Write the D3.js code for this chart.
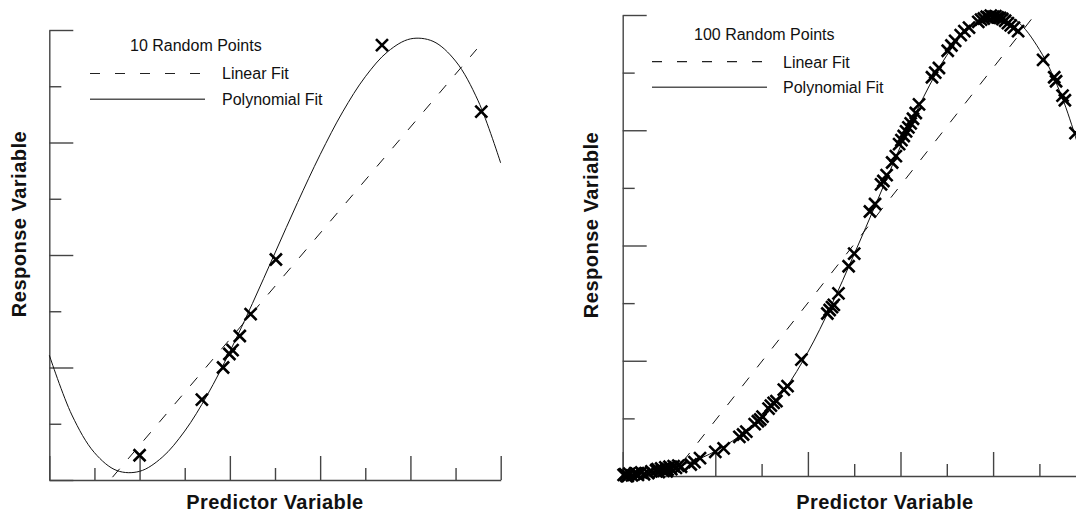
<!DOCTYPE html>
<html><head><meta charset="utf-8">
<script src="https://cdn.jsdelivr.net/npm/d3@7"></script>
<style>
body{margin:0;background:#fff}
svg{display:block}
text{font-family:"Liberation Sans",Arial,Helvetica,sans-serif;fill:#111}
</style>
</head><body>
<svg id="chart" width="1076" height="512"></svg>
<script>
// ---------- DATA ----------
const xTicksMajor = [0, 2, 4, 6, 8, 10];
const xTicksMinor = [1, 3, 5, 7, 9];
const yTicksMajor = [0, 2, 4, 6, 8];
const yTicksMinor = [1, 3, 5, 7];

// Left panel: 10 random points
const pts10X = [2.00, 3.38, 3.85, 3.99, 4.06, 4.22, 4.46, 5.02, 7.37, 9.57];
const pts10Y = [0.44, 1.43, 2.00, 2.24, 2.31, 2.56, 2.95, 3.92, 7.73, 6.55];
const lin10X = [1.40, 9.47];
const lin10Y = [0.05, 7.66];
const poly10X = [0, 0.5, 1, 1.5, 2, 2.5, 3, 3.5, 4, 4.5, 5, 5.5, 6, 6.5, 7, 7.5, 8, 8.5, 9, 9.5, 10];
const poly10Y = [2.22, 1.156, 0.486, 0.167, 0.154, 0.403, 0.870, 1.511, 2.282, 3.138, 4.037, 4.934, 5.784, 6.545, 7.169, 7.617, 7.842, 7.799, 7.448, 6.741, 5.635];

// Right panel: 100 random points
const pts100X = [
  0.02, 0.05, 0.08, 0.11, 0.14, 0.20, 0.27, 0.30, 0.33, 0.40, 0.46, 0.55, 0.62,
  0.72, 0.75, 0.78, 0.83, 0.88, 0.92, 0.95, 0.97, 1.01, 1.05, 1.10, 1.15, 1.20, 1.26,
  1.47, 1.55, 1.67, 2.00, 2.18, 2.52, 2.60, 2.67, 2.85, 2.92, 2.97, 3.02,
  3.15, 3.20, 3.26, 3.32, 3.48, 3.56, 3.86,
  4.42, 4.47, 4.52, 4.56, 4.66, 4.88, 5.00, 5.34, 5.45, 5.58, 5.63, 5.70, 5.82, 5.90,
  5.97, 6.02, 6.07, 6.12, 6.17, 6.22, 6.27, 6.33, 6.40,
  6.68, 6.75, 6.83, 7.02, 7.10, 7.18, 7.30, 7.38, 7.48,
  7.68, 7.74, 7.80, 7.86, 7.90, 7.95, 8.00, 8.05, 8.10, 8.15, 8.20, 8.26, 8.32, 8.38, 8.45,
  8.54, 9.08, 9.32, 9.36, 9.50, 9.55, 9.78
];
const pts100Y = [
  0.02, 0.03, 0.00, 0.00, 0.04, 0.01, 0.05, 0.04, 0.02, 0.06, 0.03, 0.05, 0.08,
  0.10, 0.12, 0.07, 0.13, 0.09, 0.15, 0.08, 0.11, 0.16, 0.12, 0.17, 0.14, 0.18, 0.16,
  0.20, 0.24, 0.31, 0.42, 0.48, 0.68, 0.72, 0.77, 0.90, 0.95, 0.98, 1.03,
  1.17, 1.22, 1.27, 1.30, 1.50, 1.56, 2.02,
  2.82, 2.88, 2.93, 2.97, 3.17, 3.64, 3.86, 4.59, 4.72, 5.06, 5.12, 5.22, 5.44, 5.55,
  5.76, 5.83, 5.90, 5.98, 6.05, 6.12, 6.20, 6.30, 6.45,
  6.92, 7.00, 7.08, 7.38, 7.47, 7.55, 7.65, 7.72, 7.78,
  7.88, 7.92, 7.94, 7.97, 7.96, 7.99, 7.97, 7.98, 7.96, 7.95, 7.93, 7.90, 7.86, 7.82, 7.78,
  7.72, 7.22, 6.92, 6.85, 6.60, 6.52, 5.95
];
const lin100X = [1.30, 8.87];
const lin100Y = [0.25, 7.97];
const poly100X = [0, 0.5, 1, 1.5, 2, 2.5, 3, 3.5, 4, 4.5, 5, 5.5, 6, 6.5, 7, 7.5, 8, 8.5, 9, 9.5, 10];
const poly100Y = [0.00, 0.05, 0.13, 0.25, 0.43, 0.68, 1.02, 1.50, 2.15, 2.95, 3.85, 4.78, 5.72, 6.58, 7.30, 7.80, 8.04, 7.90, 7.40, 6.55, 5.30];

const titles = ["10 Random Points", "100 Random Points"];
const legendLabels = ["Linear Fit", "Polynomial Fit"];
const xLabel = "Predictor Variable";
const yLabel = "Response Variable";

// ---------- LAYOUT ----------
const zip = (a, b) => a.map((v, i) => [v, b[i]]);
const panels = [
  { pts: zip(pts10X, pts10Y), lin: zip(lin10X, lin10Y), poly: zip(poly10X, poly10Y), title: titles[0],
    x0: 49.3, x1: 500.7, yTop: 30, yBot: 480,
    titleX: 130, titleY: 50.5, legX0: 90, legX1: 203, dashY: 73.5, solidY: 99.3,
    legTextX: 222, linTextY: 79, polyTextY: 104.5, xlabelX: 275, ylabelX: 26, ylabelY: 224 },
  { pts: zip(pts100X, pts100Y), lin: zip(lin100X, lin100Y), poly: zip(poly100X, poly100Y), title: titles[1],
    x0: 622.7, x1: 1085.7, yTop: 15, yBot: 476,
    titleX: 694, titleY: 40, legX0: 652, legX1: 765, dashY: 61.7, solidY: 87.3,
    legTextX: 783, linTextY: 67.5, polyTextY: 93, xlabelX: 885, ylabelX: 598, ylabelY: 225 }
];

const svg = d3.select("#chart");
const axisColor = "#444";

panels.forEach(p => {
  const g = svg.append("g");
  const x = d3.scaleLinear().domain([0, 10]).range([p.x0, p.x1]);
  const y = d3.scaleLinear().domain([0, 8]).range([p.yBot, p.yTop]);

  const styleAxis = sel => {
    sel.selectAll("path.domain").attr("stroke", axisColor).attr("stroke-width", 1.4);
    sel.selectAll(".tick line").attr("stroke", axisColor).attr("stroke-width", 1.4);
    sel.selectAll(".tick text").remove();
  };

  g.append("g").attr("transform", `translate(0,${p.yBot})`)
    .call(d3.axisBottom(x).tickValues(xTicksMajor).tickSize(-24).tickSizeOuter(0).tickFormat(""))
    .call(styleAxis);
  g.append("g").attr("transform", `translate(0,${p.yBot})`)
    .call(d3.axisBottom(x).tickValues(xTicksMinor).tickSize(-12).tickSizeOuter(0).tickFormat(""))
    .call(styleAxis).call(s => s.select("path.domain").remove());

  g.append("g").attr("transform", `translate(${p.x0},0)`)
    .call(d3.axisLeft(y).tickValues(yTicksMajor).tickSize(-24).tickSizeOuter(0).tickFormat(""))
    .call(styleAxis);
  g.append("g").attr("transform", `translate(${p.x0},0)`)
    .call(d3.axisLeft(y).tickValues(yTicksMinor).tickSize(-12).tickSizeOuter(0).tickFormat(""))
    .call(styleAxis).call(s => s.select("path.domain").remove());

  g.append("path").datum(p.lin)
    .attr("d", d3.line().x(d => x(d[0])).y(d => y(d[1])))
    .attr("fill", "none").attr("stroke", "#111").attr("stroke-width", 1)
    .attr("stroke-dasharray", "11,13");

  g.append("path").datum(p.poly)
    .attr("d", d3.line().curve(d3.curveCatmullRom.alpha(0.5)).x(d => x(d[0])).y(d => y(d[1])))
    .attr("fill", "none").attr("stroke", "#111").attr("stroke-width", 1);

  const s = 6;
  g.append("g").selectAll("path").data(p.pts).join("path")
    .attr("transform", d => `translate(${x(d[0])},${y(d[1])})`)
    .attr("d", `M${-s},${-s}L${s},${s}M${-s},${s}L${s},${-s}`)
    .attr("stroke", "#000").attr("stroke-width", 2.6).attr("fill", "none");

  g.append("text").attr("x", p.titleX).attr("y", p.titleY).attr("font-size", 16).text(p.title);
  g.append("line").attr("x1", p.legX0).attr("x2", p.legX1).attr("y1", p.dashY).attr("y2", p.dashY)
    .attr("stroke", "#222").attr("stroke-width", 1.2).attr("stroke-dasharray", "10,15");
  g.append("line").attr("x1", p.legX0).attr("x2", p.legX1 + 2).attr("y1", p.solidY).attr("y2", p.solidY)
    .attr("stroke", "#555").attr("stroke-width", 1.5);
  g.append("text").attr("x", p.legTextX).attr("y", p.linTextY).attr("font-size", 16).text(legendLabels[0]);
  g.append("text").attr("x", p.legTextX).attr("y", p.polyTextY).attr("font-size", 16).text(legendLabels[1]);

  g.append("text").attr("x", p.xlabelX).attr("y", 509).attr("text-anchor", "middle")
    .attr("font-size", 20).attr("font-weight", "bold").attr("letter-spacing", 0.4).text(xLabel);
  g.append("text").attr("transform", `translate(${p.ylabelX},${p.ylabelY}) rotate(-90)`)
    .attr("text-anchor", "middle").attr("font-size", 20).attr("font-weight", "bold")
    .attr("letter-spacing", 0.5).text(yLabel);
});
</script>
</body></html>
